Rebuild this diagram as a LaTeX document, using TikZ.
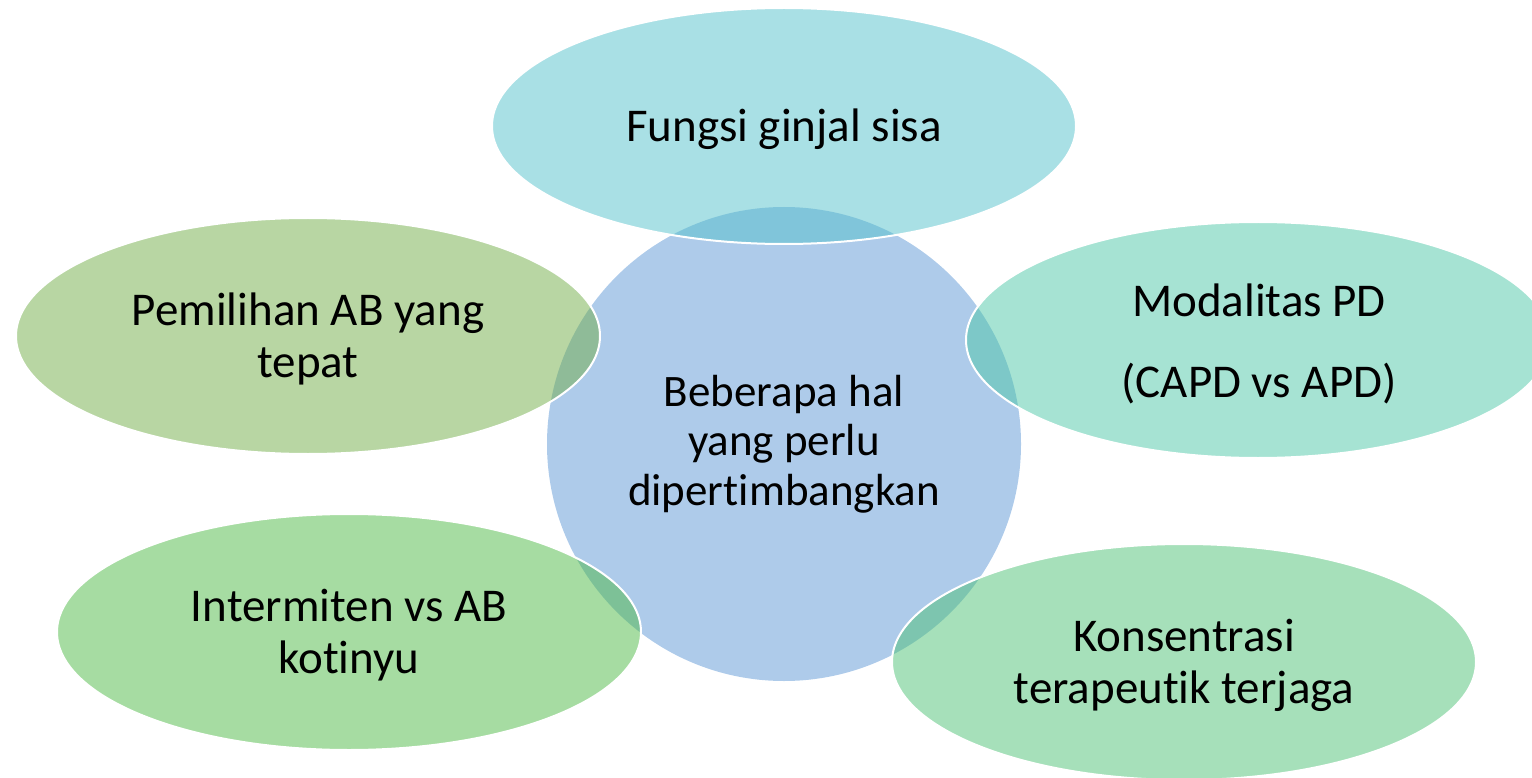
\documentclass[tikz,border=0pt]{standalone}
\usepackage{fontspec}
\setmainfont{Carlito}[Ligatures={NoCommon}]
\usetikzlibrary{shapes.geometric}
\definecolor{cCirc}{RGB}{174,203,234}
\definecolor{cTop}{RGB}{83,193,203}
\definecolor{cUL}{RGB}{113,173,71}
\definecolor{cUR}{RGB}{77,199,167}
\definecolor{cLL}{RGB}{77,185,69}
\definecolor{cLR}{RGB}{77,193,117}
\begin{document}
\begin{tikzpicture}[x=1pt,y=-1pt,
  petal/.style={ellipse, draw=white, line width=2pt, draw opacity=1,
    fill opacity=0.5, inner sep=0pt,
    minimum width=584pt, minimum height=236pt},
  ptext/.style={inner sep=0pt, align=center, font=\fontsize{47}{52}\selectfont},
  hub/.style={circle, fill=cCirc, inner sep=0pt, minimum size=474pt,
    align=center, font=\fontsize{45}{49.5}\selectfont}
]
\useasboundingbox (0,0) rectangle (1532,778);
\clip (0,0) rectangle (1532,778);
\node[hub] (center) at (784,444) {Beberapa hal\\yang perlu\\dipertimbangkan};
\node[petal, fill=cTop] (top) at (784,126) {};
\node[petal, fill=cUL] (ul) at (308,336) {};
\node[petal, fill=cUR] (ur) at (1258,340) {};
\node[petal, fill=cLL] (ll) at (349,632) {};
\node[petal, fill=cLR] (lr) at (1184,662) {};
\node[ptext] (topt) at (784,129) {Fungsi ginjal sisa};
\node[ptext] (ult) at (308,339) {Pemilihan AB yang\\tepat};
\node[ptext] (urt) at (1259,344) {Modalitas PD\\[29pt](CAPD vs APD)};
\node[ptext] (llt) at (349,635) {Intermiten vs AB\\kotinyu};
\node[ptext] (lrt) at (1184,665) {Konsentrasi\\terapeutik terjaga};
\end{tikzpicture}
\end{document}
